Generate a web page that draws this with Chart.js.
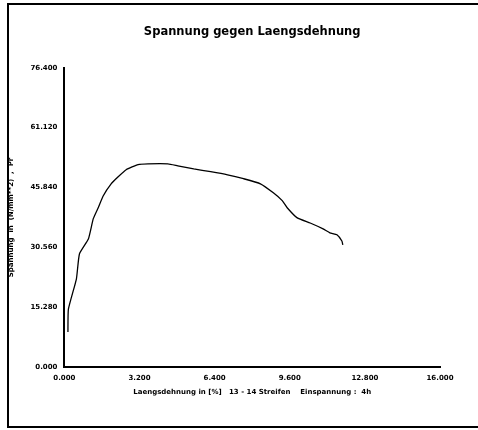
<!DOCTYPE html>
<html>
<head>
<meta charset="utf-8">
<script src="https://cdn.jsdelivr.net/npm/chart.js@4.4.0/dist/chart.umd.min.js"></script>
<style>
  html, body { margin: 0; padding: 0; background: #fff; }
  #frame { position: absolute; left: 7px; top: 3px; width: 480px; height: 425px; border: 2px solid #000; box-sizing: border-box; }
  #wrap { position: absolute; left: 0; top: 0; width: 478px; height: 430px; }
</style>
</head>
<body>
<div id="frame"></div>
<div id="wrap"><canvas id="chart" width="478" height="430"></canvas></div>
<script>
// Laengsdehnung (%) und Spannung
const dehnung = [0.15, 0.17, 0.51, 0.64, 1.02, 1.23, 1.44, 1.65, 1.99, 2.29, 2.63, 3.14, 3.56, 4.41, 4.83, 5.51, 6.23, 6.95, 7.63, 8.35, 8.90, 9.28, 9.49, 9.92, 10.47, 11.02, 11.31, 11.61, 11.82, 11.86];
const spannung = [9.0, 14.8, 22.5, 28.9, 32.7, 37.9, 40.7, 43.7, 46.8, 48.6, 50.4, 51.7, 51.9, 51.9, 51.4, 50.6, 49.9, 49.1, 48.1, 46.8, 44.5, 42.5, 40.7, 38.1, 36.8, 35.3, 34.3, 33.8, 32.2, 31.2];

const xTicks = [0, 3.2, 6.4, 9.6, 12.8, 16.0];
const yTicks = [0, 15.28, 30.56, 45.84, 61.12, 76.40];

const points = dehnung.map((x, i) => ({ x: x, y: spannung[i] }));
const tickFont = { family: 'DejaVu Sans', size: 7, weight: 'bold' };

new Chart(document.getElementById('chart').getContext('2d'), {
    type: 'scatter',
    data: {
        datasets: [{
            data: points,
            showLine: true,
            borderColor: '#000',
            borderWidth: 1.3,
            pointRadius: 0,
            tension: 0.15
        }]
    },
    options: {
        responsive: false,
        animation: false,
        layout: { padding: { left: 3, right: 38, top: 0, bottom: 30 } },
        plugins: {
            legend: { display: false },
            tooltip: { enabled: false },
            title: {
                display: true,
                fullSize: false,
                text: 'Spannung gegen Laengsdehnung',
                color: '#000',
                font: { family: 'DejaVu Sans', size: 11.5, weight: 'bold' },
                padding: { top: 25, bottom: 29 }
            }
        },
        scales: {
            x: {
                type: 'linear',
                min: 0,
                max: 16,
                afterBuildTicks: axis => { axis.ticks = xTicks.map(v => ({ value: v })); },
                border: { color: '#000', width: 2 },
                grid: { display: false, drawTicks: true, tickLength: 4, color: '#000' },
                ticks: {
                    color: '#000',
                    font: tickFont,
                    maxRotation: 0,
                    callback: v => v.toFixed(3)
                },
                title: {
                    display: true,
                    text: 'Laengsdehnung in [%]   13 - 14 Streifen    Einspannung :  4h',
                    color: '#000',
                    font: { family: 'DejaVu Sans', size: 7, weight: 'bold' },
                    padding: { top: 2 }
                }
            },
            y: {
                type: 'linear',
                min: 0,
                max: 76.4,
                afterBuildTicks: axis => { axis.ticks = yTicks.map(v => ({ value: v })); },
                border: { color: '#000', width: 2 },
                grid: { display: false, tickLength: 4, color: '#000' },
                ticks: {
                    color: '#000',
                    font: tickFont,
                    callback: v => v.toFixed(3)
                },
                title: {
                    display: true,
                    text: 'Spannung  in  (N/mm**2)  ,  Pr',
                    color: '#000',
                    font: { family: 'DejaVu Sans', size: 7, weight: 'bold' },
                    padding: { bottom: 12 }
                }
            }
        }
    }
});
</script>
</body>
</html>
